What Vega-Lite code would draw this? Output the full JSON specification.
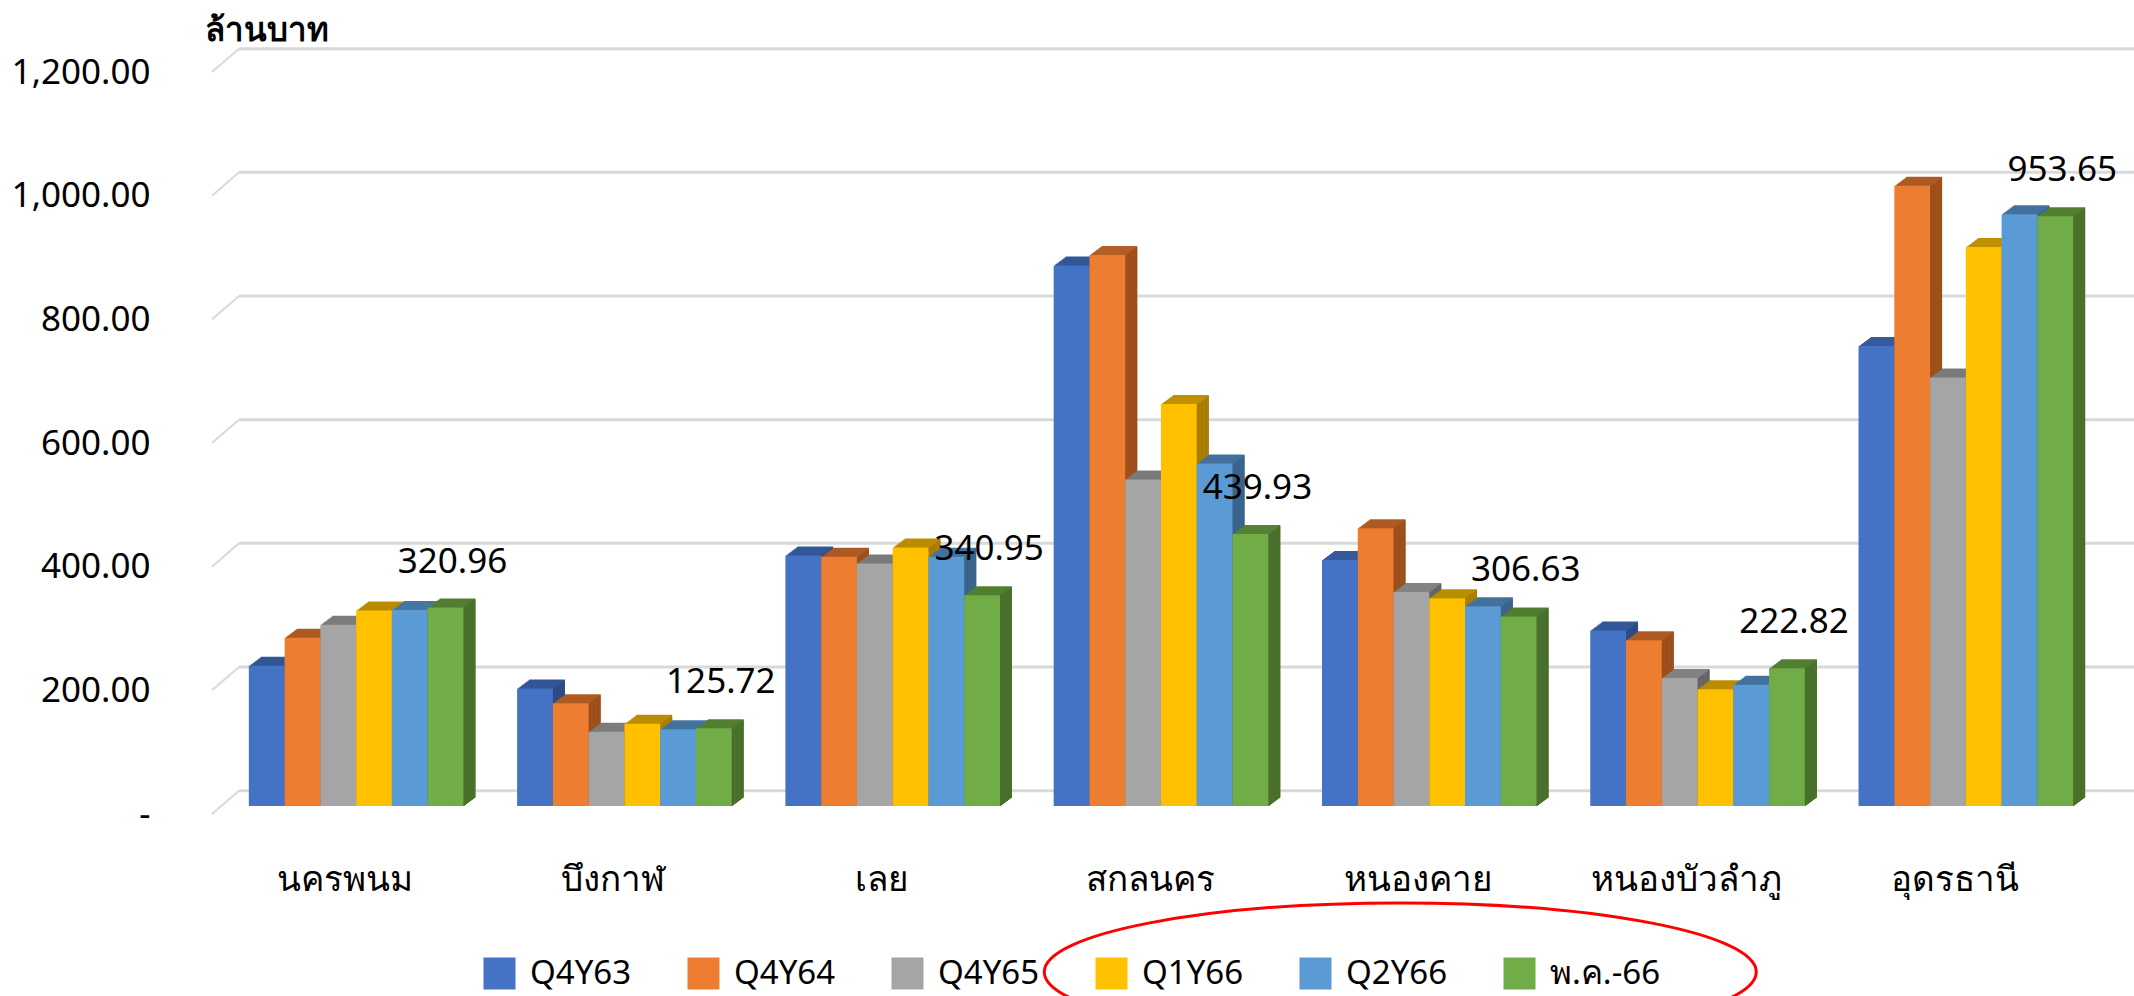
{"$schema":"https://vega.github.io/schema/vega-lite/v6.json","width":1922,"height":742,"autosize":"none","padding":{"left":212,"top":72,"right":0,"bottom":182},"background":"white","config":{"view":{"stroke":null},"font":"Noto Sans","text":{"font":"Noto Sans"}},"datasets":{"d":[{"p":"นครพนม","s":"Q4Y63","v":227},{"p":"นครพนม","s":"Q4Y64","v":272},{"p":"นครพนม","s":"Q4Y65","v":293},{"p":"นครพนม","s":"Q1Y66","v":316},{"p":"นครพนม","s":"Q2Y66","v":317},{"p":"นครพนม","s":"พ.ค.-66","v":320.96},{"p":"บึงกาฬ","s":"Q4Y63","v":190},{"p":"บึงกาฬ","s":"Q4Y64","v":166},{"p":"บึงกาฬ","s":"Q4Y65","v":120},{"p":"บึงกาฬ","s":"Q1Y66","v":133},{"p":"บึงกาฬ","s":"Q2Y66","v":124},{"p":"บึงกาฬ","s":"พ.ค.-66","v":125.72},{"p":"เลย","s":"Q4Y63","v":405},{"p":"เลย","s":"Q4Y64","v":403},{"p":"เลย","s":"Q4Y65","v":392},{"p":"เลย","s":"Q1Y66","v":418},{"p":"เลย","s":"Q2Y66","v":403},{"p":"เลย","s":"พ.ค.-66","v":340.95},{"p":"สกลนคร","s":"Q4Y63","v":874},{"p":"สกลนคร","s":"Q4Y64","v":891},{"p":"สกลนคร","s":"Q4Y65","v":528},{"p":"สกลนคร","s":"Q1Y66","v":650},{"p":"สกลนคร","s":"Q2Y66","v":554},{"p":"สกลนคร","s":"พ.ค.-66","v":439.93},{"p":"หนองคาย","s":"Q4Y63","v":398},{"p":"หนองคาย","s":"Q4Y64","v":449},{"p":"หนองคาย","s":"Q4Y65","v":346},{"p":"หนองคาย","s":"Q1Y66","v":336},{"p":"หนองคาย","s":"Q2Y66","v":323},{"p":"หนองคาย","s":"พ.ค.-66","v":306.63},{"p":"หนองบัวลำภู","s":"Q4Y63","v":284},{"p":"หนองบัวลำภู","s":"Q4Y64","v":268},{"p":"หนองบัวลำภู","s":"Q4Y65","v":207},{"p":"หนองบัวลำภู","s":"Q1Y66","v":189},{"p":"หนองบัวลำภู","s":"Q2Y66","v":196},{"p":"หนองบัวลำภู","s":"พ.ค.-66","v":222.82},{"p":"อุดรธานี","s":"Q4Y63","v":744},{"p":"อุดรธานี","s":"Q4Y64","v":1003},{"p":"อุดรธานี","s":"Q4Y65","v":693},{"p":"อุดรธานี","s":"Q1Y66","v":904},{"p":"อุดรธานี","s":"Q2Y66","v":957},{"p":"อุดรธานี","s":"พ.ค.-66","v":953.65}],"g":[{"t":0,"b":37.7},{"t":200,"b":237.7},{"t":400,"b":437.7},{"t":600,"b":637.7},{"t":800,"b":837.7},{"t":1000,"b":1037.7},{"t":1200,"b":1237.7}]},"layer":[{"data":{"name":"g"},"mark":{"type":"rule","stroke":"#D9D9D9","strokeWidth":2},"encoding":{"x":{"value":0},"x2":{"value":27},"y":{"field":"t","type":"quantitative","scale":{"domain":[0,1200],"range":[742,0]},"axis":{"title":"ล้านบาท","titleAngle":0,"titleX":-8,"titleY":-42,"titleAlign":"left","titleBaseline":"middle","titleFontSize":33,"titleFontWeight":"bold","titleColor":"#000","titleFont":"Noto Sans","domain":false,"ticks":false,"grid":false,"values":[0,200,400,600,800,1000,1200],"labelExpr":"datum.value==0?'-\u00a0\u00a0\u00a0\u00a0\u00a0\u00a0':format(datum.value,',.2f')","labelFontSize":35,"labelColor":"#000","labelPadding":62,"labelFont":"Noto Sans"}},"y2":{"field":"b"}}},{"data":{"name":"g"},"mark":{"type":"rule","stroke":"#D9D9D9","strokeWidth":3},"encoding":{"x":{"value":27},"x2":{"value":1922},"y":{"field":"b","type":"quantitative"}}},{"data":{"name":"d"},"resolve":{"scale":{"color":"independent","xOffset":"independent"}},"encoding":{"x":{"field":"p","type":"nominal","sort":null,"scale":{"range":[10,1888],"paddingInner":0.2,"paddingOuter":0.1},"axis":{"title":null,"domain":false,"ticks":false,"labelAngle":0,"labelFontSize":35,"labelColor":"#000","labelPadding":65,"labelBaseline":"middle","labelOffset":-11,"labelFont":"Noto Sans","labelLimit":500}},"y":{"field":"v","type":"quantitative","stack":null},"y2":{"datum":0}},"layer":[
{"mark":{"type":"bar","yOffset":-17,"y2Offset":-17},"encoding":{"xOffset":{"field":"s","sort":null,"scale":{"range":[12,226.6]}},"color":{"field":"s","sort":null,"legend":null,"scale":{"range":["#355A9E","#B45E25","#828282","#BF9000","#4476A3","#548235"]}}}},
{"mark":{"type":"bar","yOffset":-16,"y2Offset":-16},"encoding":{"xOffset":{"field":"s","sort":null,"scale":{"range":[12,226.6]}},"color":{"field":"s","sort":null,"legend":null,"scale":{"range":["#2C4A80","#9A4E1C","#636363","#A67C00","#3A6288","#486E2B"]}}}},
{"mark":{"type":"bar","yOffset":-16,"y2Offset":-16},"encoding":{"xOffset":{"field":"s","sort":null,"scale":{"range":[10.67,225.27]}},"color":{"field":"s","sort":null,"legend":null,"scale":{"range":["#355A9E","#B45E25","#828282","#BF9000","#4476A3","#548235"]}}}},
{"mark":{"type":"bar","yOffset":-15,"y2Offset":-15},"encoding":{"xOffset":{"field":"s","sort":null,"scale":{"range":[10.67,225.27]}},"color":{"field":"s","sort":null,"legend":null,"scale":{"range":["#2C4A80","#9A4E1C","#636363","#A67C00","#3A6288","#486E2B"]}}}},
{"mark":{"type":"bar","yOffset":-15,"y2Offset":-15},"encoding":{"xOffset":{"field":"s","sort":null,"scale":{"range":[9.33,223.93]}},"color":{"field":"s","sort":null,"legend":null,"scale":{"range":["#355A9E","#B45E25","#828282","#BF9000","#4476A3","#548235"]}}}},
{"mark":{"type":"bar","yOffset":-14,"y2Offset":-14},"encoding":{"xOffset":{"field":"s","sort":null,"scale":{"range":[9.33,223.93]}},"color":{"field":"s","sort":null,"legend":null,"scale":{"range":["#2C4A80","#9A4E1C","#636363","#A67C00","#3A6288","#486E2B"]}}}},
{"mark":{"type":"bar","yOffset":-14,"y2Offset":-14},"encoding":{"xOffset":{"field":"s","sort":null,"scale":{"range":[8,222.6]}},"color":{"field":"s","sort":null,"legend":null,"scale":{"range":["#355A9E","#B45E25","#828282","#BF9000","#4476A3","#548235"]}}}},
{"mark":{"type":"bar","yOffset":-13,"y2Offset":-13},"encoding":{"xOffset":{"field":"s","sort":null,"scale":{"range":[8,222.6]}},"color":{"field":"s","sort":null,"legend":null,"scale":{"range":["#2C4A80","#9A4E1C","#636363","#A67C00","#3A6288","#486E2B"]}}}},
{"mark":{"type":"bar","yOffset":-13,"y2Offset":-13},"encoding":{"xOffset":{"field":"s","sort":null,"scale":{"range":[6.67,221.27]}},"color":{"field":"s","sort":null,"legend":null,"scale":{"range":["#355A9E","#B45E25","#828282","#BF9000","#4476A3","#548235"]}}}},
{"mark":{"type":"bar","yOffset":-12,"y2Offset":-12},"encoding":{"xOffset":{"field":"s","sort":null,"scale":{"range":[6.67,221.27]}},"color":{"field":"s","sort":null,"legend":null,"scale":{"range":["#2C4A80","#9A4E1C","#636363","#A67C00","#3A6288","#486E2B"]}}}},
{"mark":{"type":"bar","yOffset":-12,"y2Offset":-12},"encoding":{"xOffset":{"field":"s","sort":null,"scale":{"range":[5.33,219.93]}},"color":{"field":"s","sort":null,"legend":null,"scale":{"range":["#355A9E","#B45E25","#828282","#BF9000","#4476A3","#548235"]}}}},
{"mark":{"type":"bar","yOffset":-11,"y2Offset":-11},"encoding":{"xOffset":{"field":"s","sort":null,"scale":{"range":[5.33,219.93]}},"color":{"field":"s","sort":null,"legend":null,"scale":{"range":["#2C4A80","#9A4E1C","#636363","#A67C00","#3A6288","#486E2B"]}}}},
{"mark":{"type":"bar","yOffset":-11,"y2Offset":-11},"encoding":{"xOffset":{"field":"s","sort":null,"scale":{"range":[4,218.6]}},"color":{"field":"s","sort":null,"legend":null,"scale":{"range":["#355A9E","#B45E25","#828282","#BF9000","#4476A3","#548235"]}}}},
{"mark":{"type":"bar","yOffset":-10,"y2Offset":-10},"encoding":{"xOffset":{"field":"s","sort":null,"scale":{"range":[4,218.6]}},"color":{"field":"s","sort":null,"legend":null,"scale":{"range":["#2C4A80","#9A4E1C","#636363","#A67C00","#3A6288","#486E2B"]}}}},
{"mark":{"type":"bar","yOffset":-10,"y2Offset":-10},"encoding":{"xOffset":{"field":"s","sort":null,"scale":{"range":[2.67,217.27]}},"color":{"field":"s","sort":null,"legend":null,"scale":{"range":["#355A9E","#B45E25","#828282","#BF9000","#4476A3","#548235"]}}}},
{"mark":{"type":"bar","yOffset":-9,"y2Offset":-9},"encoding":{"xOffset":{"field":"s","sort":null,"scale":{"range":[2.67,217.27]}},"color":{"field":"s","sort":null,"legend":null,"scale":{"range":["#2C4A80","#9A4E1C","#636363","#A67C00","#3A6288","#486E2B"]}}}},
{"mark":{"type":"bar","yOffset":-9,"y2Offset":-9},"encoding":{"xOffset":{"field":"s","sort":null,"scale":{"range":[1.33,215.93]}},"color":{"field":"s","sort":null,"legend":null,"scale":{"range":["#355A9E","#B45E25","#828282","#BF9000","#4476A3","#548235"]}}}},
{"mark":{"type":"bar","yOffset":-8,"y2Offset":-8},"encoding":{"xOffset":{"field":"s","sort":null,"scale":{"range":[1.33,215.93]}},"color":{"field":"s","sort":null,"legend":null,"scale":{"range":["#2C4A80","#9A4E1C","#636363","#A67C00","#3A6288","#486E2B"]}}}},
{"mark":{"type":"bar","yOffset":-8,"y2Offset":-8},"encoding":{"xOffset":{"field":"s","sort":null,"scale":{"range":[0,214.6]}},"color":{"field":"s","sort":null,"scale":{"range":["#4472C4","#ED7D31","#A5A5A5","#FFC000","#5B9BD5","#70AD47"]},"legend":{"title":null,"orient":"none","legendX":271,"legendY":885,"direction":"horizontal","columns":6,"symbolType":"square","symbolSize":1024,"symbolStrokeWidth":0,"symbolOpacity":1,"labelFontSize":33,"labelColor":"#000","labelOffset":14,"labelFont":"Noto Sans","columnPadding":55,"gridAlign":"none"}}}},
{"transform":[{"filter":"datum.s=='พ.ค.-66'"}],"mark":{"type":"text","fontSize":35,"dx":7,"dy":-54,"baseline":"middle","color":"#000","font":"Noto Sans"},"encoding":{"y2":null,"xOffset":{"field":"s","sort":null,"scale":{"domain":["Q4Y63","Q4Y64","Q4Y65","Q1Y66","Q2Y66","พ.ค.-66"],"range":[0,214.6]}},"text":{"field":"v","type":"quantitative","format":".2f"}}}
]},{"data":{"values":[{"note":"เน้น"}]},"mark":{"type":"point","shape":"M-1,0A1,0.194,0,1,1,1,0A1,0.194,0,1,1,-1,0Z","size":506944,"filled":false,"stroke":"#FF0000","strokeWidth":3,"opacity":1,"xOffset":-29},"encoding":{"x":{"datum":"หนองคาย"},"y":{"datum":-255.5}}}]}
